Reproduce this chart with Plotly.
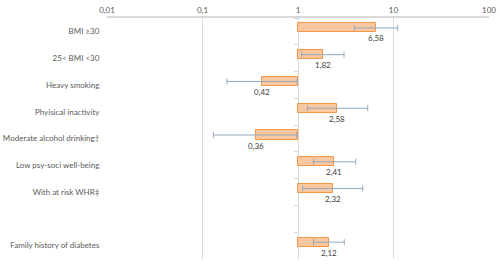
import math
import plotly.graph_objects as go

categories = ["BMI ≥30", "25< BMI <30", "Heavy smoking", "Phyisical inactivity",
              "Moderate alcohol drinking†", "Low psy-soci well-being",
              "With at risk WHR‡", " ", "Family history of diabetes"]
odds_ratio = [6.58, 1.82, 0.42, 2.58, 0.36, 2.41, 2.32, None, 2.12]
ci_low = [3.89, 1.09, 0.18, 1.25, 0.13, 1.45, 1.12, None, 1.45]
ci_high = [11.07, 3.03, 0.98, 5.37, 0.97, 4.02, 4.76, None, 3.05]
tick_vals = [0.01, 0.1, 1, 10, 100]
tick_text = ["0,01", "0,1", "1", "10", "100"]

ref = 1
bar_len = [None if v is None else v - ref for v in odds_ratio]
err_plus = [None if v is None else h - v for v, h in zip(odds_ratio, ci_high)]
err_minus = [None if v is None else v - l for v, l in zip(odds_ratio, ci_low)]

FONT = "Lato, 'Liberation Sans', sans-serif"
GRID = "#D9D9D9"

fig = go.Figure()
fig.add_trace(go.Bar(
    y=categories, x=bar_len, base=ref, orientation="h",
    width=0.34, offset=-0.30,
    marker=dict(color="#FAC8A0", line=dict(color="#F79646", width=1)),
    error_x=dict(type="data", array=err_plus, arrayminus=err_minus,
                 color="#93A8BC", thickness=1, width=3),
    hoverinfo="skip", showlegend=False,
))
# invisible trace so the secondary (tick-mark) axis knows the categories
fig.add_trace(go.Scatter(
    y=categories, x=[ref] * len(categories), yaxis="y2", mode="markers",
    marker=dict(size=0.1, opacity=0), hoverinfo="skip", showlegend=False,
))

for cat, v in zip(categories, odds_ratio):
    if v is None:
        continue
    fig.add_annotation(
        x=math.log10(v), y=cat, xref="x", yref="y",
        text=f"{v:.2f}".replace(".", ","), showarrow=False,
        yshift=-7, font=dict(family=FONT, size=8, color="#404040"),
    )

fig.update_layout(
    width=500, height=265,
    margin=dict(l=107, r=11, t=18, b=6, autoexpand=False),
    paper_bgcolor="white", plot_bgcolor="white",
    separators=",.",
    bargap=0,
    xaxis=dict(type="log", range=[-2, 2], side="top", automargin=False,
               tickvals=tick_vals, ticktext=tick_text,
               tickfont=dict(family=FONT, size=8, color="#595959"),
               showgrid=True, gridcolor=GRID, gridwidth=1,
               showline=True, linecolor=GRID, linewidth=2,
               ticks="", zeroline=False, fixedrange=True),
    yaxis=dict(type="category", categoryarray=categories, categoryorder="array",
               range=[8.5, -0.5], showgrid=False, zeroline=False, automargin=False,
               ticks="outside", ticklen=5, tickcolor="rgba(0,0,0,0)",
               tickfont=dict(family=FONT, size=8, color="#595959"),
               fixedrange=True),
    yaxis2=dict(type="category", categoryarray=categories, categoryorder="array",
                range=[8.5, -0.5], overlaying="y", anchor="free", position=0.5,
                side="left", showgrid=False, zeroline=False, showline=False,
                automargin=False,
                ticks="outside", ticklen=4, tickcolor=GRID, tickson="boundaries",
                showticklabels=False, fixedrange=True),
)

fig.write_html("out.html", config={"displayModeBar": False},
               post_script="document.body.style.margin='0';")
